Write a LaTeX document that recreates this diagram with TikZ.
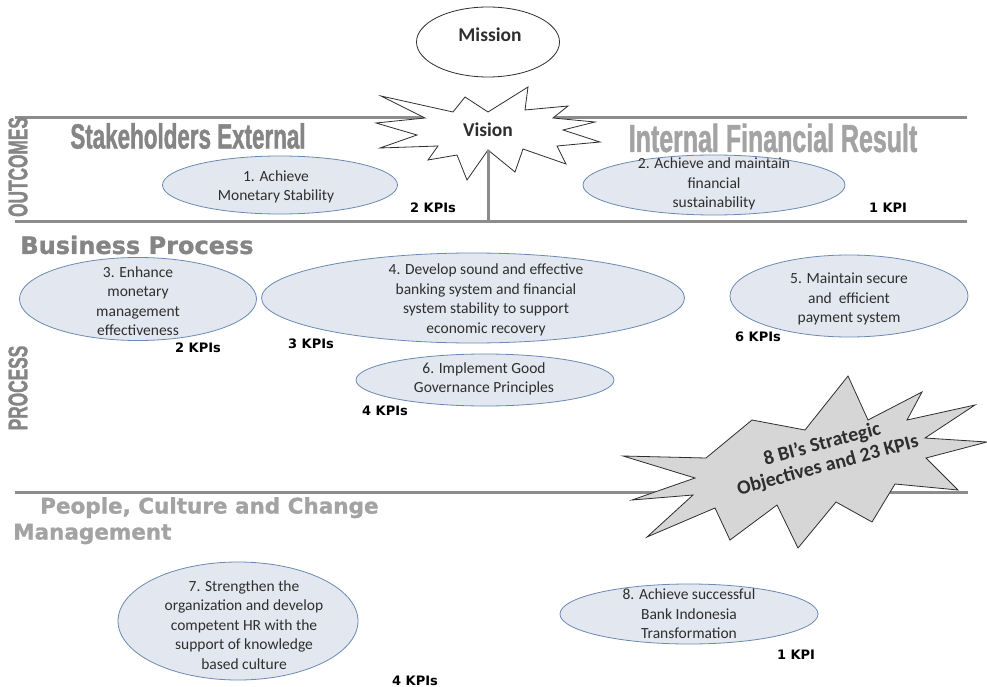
\documentclass[tikz,border=0pt]{standalone}
\usepackage{fontspec}
\setmainfont{Carlito}
\newfontfamily\condfont[FakeStretch=0.64,FakeBold=1.2]{Liberation Sans}
\newfontfamily\widefont{DejaVu Sans}
\newfontfamily\heavyfont[FakeBold=1.2]{DejaVu Sans}
\usetikzlibrary{positioning,shapes.geometric}

\definecolor{rulegray}{HTML}{8C8C8C}
\definecolor{headgray}{HTML}{858585}
\definecolor{palegray}{HTML}{A3A3A3}
\definecolor{ovalfill}{HTML}{E3E7EF}
\definecolor{ovaldraw}{HTML}{6A8AB3}
\definecolor{starfill}{HTML}{D6D6D6}
\definecolor{inkgray}{HTML}{2E2E2E}

\begin{document}
\begin{tikzpicture}[
  x=1pt, y=-1pt,
  rule/.style={draw=rulegray, line width=3pt},
  oval/.style={
    ellipse,
    draw=ovaldraw,
    fill=ovalfill,
    line width=0.8pt,
    inner sep=0pt
  },
  ovaltext/.style={
    align=center,
    inner sep=0pt,
    text=inkgray,
    font=\fontsize{15.5}{19.5}\selectfont
  },
  kpi/.style={inner sep=0pt, font=\widefont\bfseries\fontsize{13}{15}\selectfont},
  band/.style={
    rotate=90,
    inner sep=0pt,
    text=headgray,
    font=\condfont\bfseries\fontsize{27}{30}\selectfont
  },
  perspective/.style={
    inner sep=0pt,
    text=headgray,
    font=\condfont\bfseries\fontsize{35}{38}\selectfont
  },
  theme/.style={
    inner sep=0pt,
    align=left,
    text=headgray,
    font=\heavyfont\bfseries\fontsize{24}{27}\selectfont
  },
  burst/.style={draw=inkgray, line width=0.8pt},
  title/.style={inner sep=0pt, text=inkgray, font=\bfseries\fontsize{19.5}{22}\selectfont}
]
\useasboundingbox (0,0) rectangle (987,687);

% band rules
\coordinate (l1w) at (15,118);
\coordinate (l1e) at (967,118);
\coordinate (l2w) at (15,221);
\coordinate (l2e) at (967,221);
\coordinate (l3w) at (15,492);
\coordinate (l3e) at (968,492);
\draw[rule] (l1w) -- (l1e);
\draw[rule] (l2w) -- (l2e);
\draw[rule] (l3w) -- (l3e);

% mission and vision
\node[ellipse, draw=inkgray, fill=white, line width=0.8pt, minimum width=143pt, minimum height=70pt] (mission) at (488,42) {};
\node[title] (missiontxt) at (490,35) {Mission};
\draw[burst, fill=white] (381,96) -- (453,112) -- (465,97) -- (488,112) -- (528,87) -- (525,110)
  -- (568,106) -- (553,118) -- (595,122) -- (563,130) -- (600,142) -- (557,146) -- (566,164)
  -- (523,149) -- (515,172) -- (488,150) -- (467,180) -- (457,155) -- (428,160) -- (438,146)
  -- (380,148) -- (417,135) -- (376,123) -- (425,118) -- cycle;
\node[title] (vision) at (488,130) {Vision};
\coordinate (visionfoot) at (488,150);
\draw[rule] (visionfoot) -- (visionfoot |- l2w);

% perspective headings
\node[band] (outcomes) at (18,167) {OUTCOMES};
\node[band] (process) at (18,388) {PROCESS};
\node[perspective] (external) at (188,136) {Stakeholders External};
\node[perspective, text=palegray, font=\condfont\bfseries\fontsize{39}{42}\selectfont] (internal) at (773,138) {Internal Financial Result};
\node[theme] (business) at (137,245) {Business Process};
\node[theme, text=palegray, font=\heavyfont\bfseries\fontsize{21.5}{26}\selectfont, anchor=north west] (people) at (13,497) {\hspace*{27pt}People, Culture and Change\\Management};

% outcomes
\node[oval, minimum width=235pt, minimum height=58pt] (o1) at (280,185) {};
\node[ovaltext] (t1) at (276,187) {1. Achieve\\Monetary Stability};
\node[kpi] (k1) at (433,208) {2 KPIs};
\node[oval, minimum width=262pt, minimum height=60pt] (o2) at (714,185) {};
\node[ovaltext] (t2) at (714,184) {2. Achieve and maintain\\financial\\sustainability};
\node[kpi] (k2) at (888,208) {1 KPI};

% business process
\node[oval, minimum width=237pt, minimum height=83pt] (o3) at (138,299) {};
\node[ovaltext] (t3) at (138,301) {3. Enhance\\monetary\\management\\effectiveness};
\node[kpi] (k3) at (198,348) {2 KPIs};
\node[oval, minimum width=423pt, minimum height=90pt] (o4) at (473,298) {};
\node[ovaltext] (t4) at (486,300) {4. Develop sound and effective\\banking system and financial\\system stability to support\\economic recovery};
\node[kpi] (k4) at (311,344) {3 KPIs};
\node[oval, minimum width=238pt, minimum height=82pt] (o5) at (849,296) {};
\node[ovaltext] (t5) at (849,299) {5. Maintain secure\\and\ \ efficient\\payment system};
\node[kpi] (k5) at (758,337) {6 KPIs};
\node[oval, minimum width=258pt, minimum height=52pt] (o6) at (485,380) {};
\node[ovaltext] (t6) at (484,379) {6. Implement Good\\Governance Principles};
\node[kpi] (k6) at (385,411) {4 KPIs};

% summary burst
\draw[burst, fill=starfill] (848,376) -- (868,420) -- (922,392) -- (907,420) -- (975,405) -- (925,438)
  -- (987,442) -- (926,458) -- (958,490) -- (895,484) -- (872,522) -- (836,502) -- (798,548)
  -- (777,505) -- (730,540) -- (715,508) -- (647,537) -- (693,495) -- (632,500) -- (695,478)
  -- (623,456) -- (706,458) -- (752,420) -- (805,430) -- cycle;
\node[inner sep=0pt, align=center, rotate=15, text=inkgray, font=\bfseries\fontsize{20}{22}\selectfont] (summary) at (825,455) {8 BI’s Strategic\\Objectives and 23 KPIs};

% people, culture and change
\node[oval, minimum width=240pt, minimum height=118pt] (o7) at (238,621) {};
\node[ovaltext] (t7) at (244,625) {7. Strengthen the\\organization and develop\\competent HR with the\\support of knowledge\\based culture};
\node[kpi] (k7) at (415,681) {4 KPIs};
\node[oval, minimum width=258pt, minimum height=60pt] (o8) at (689,614) {};
\node[ovaltext] (t8) at (689,614) {8. Achieve successful\\Bank Indonesia\\Transformation};
\node[kpi] (k8) at (796,655) {1 KPI};
\end{tikzpicture}
\end{document}
